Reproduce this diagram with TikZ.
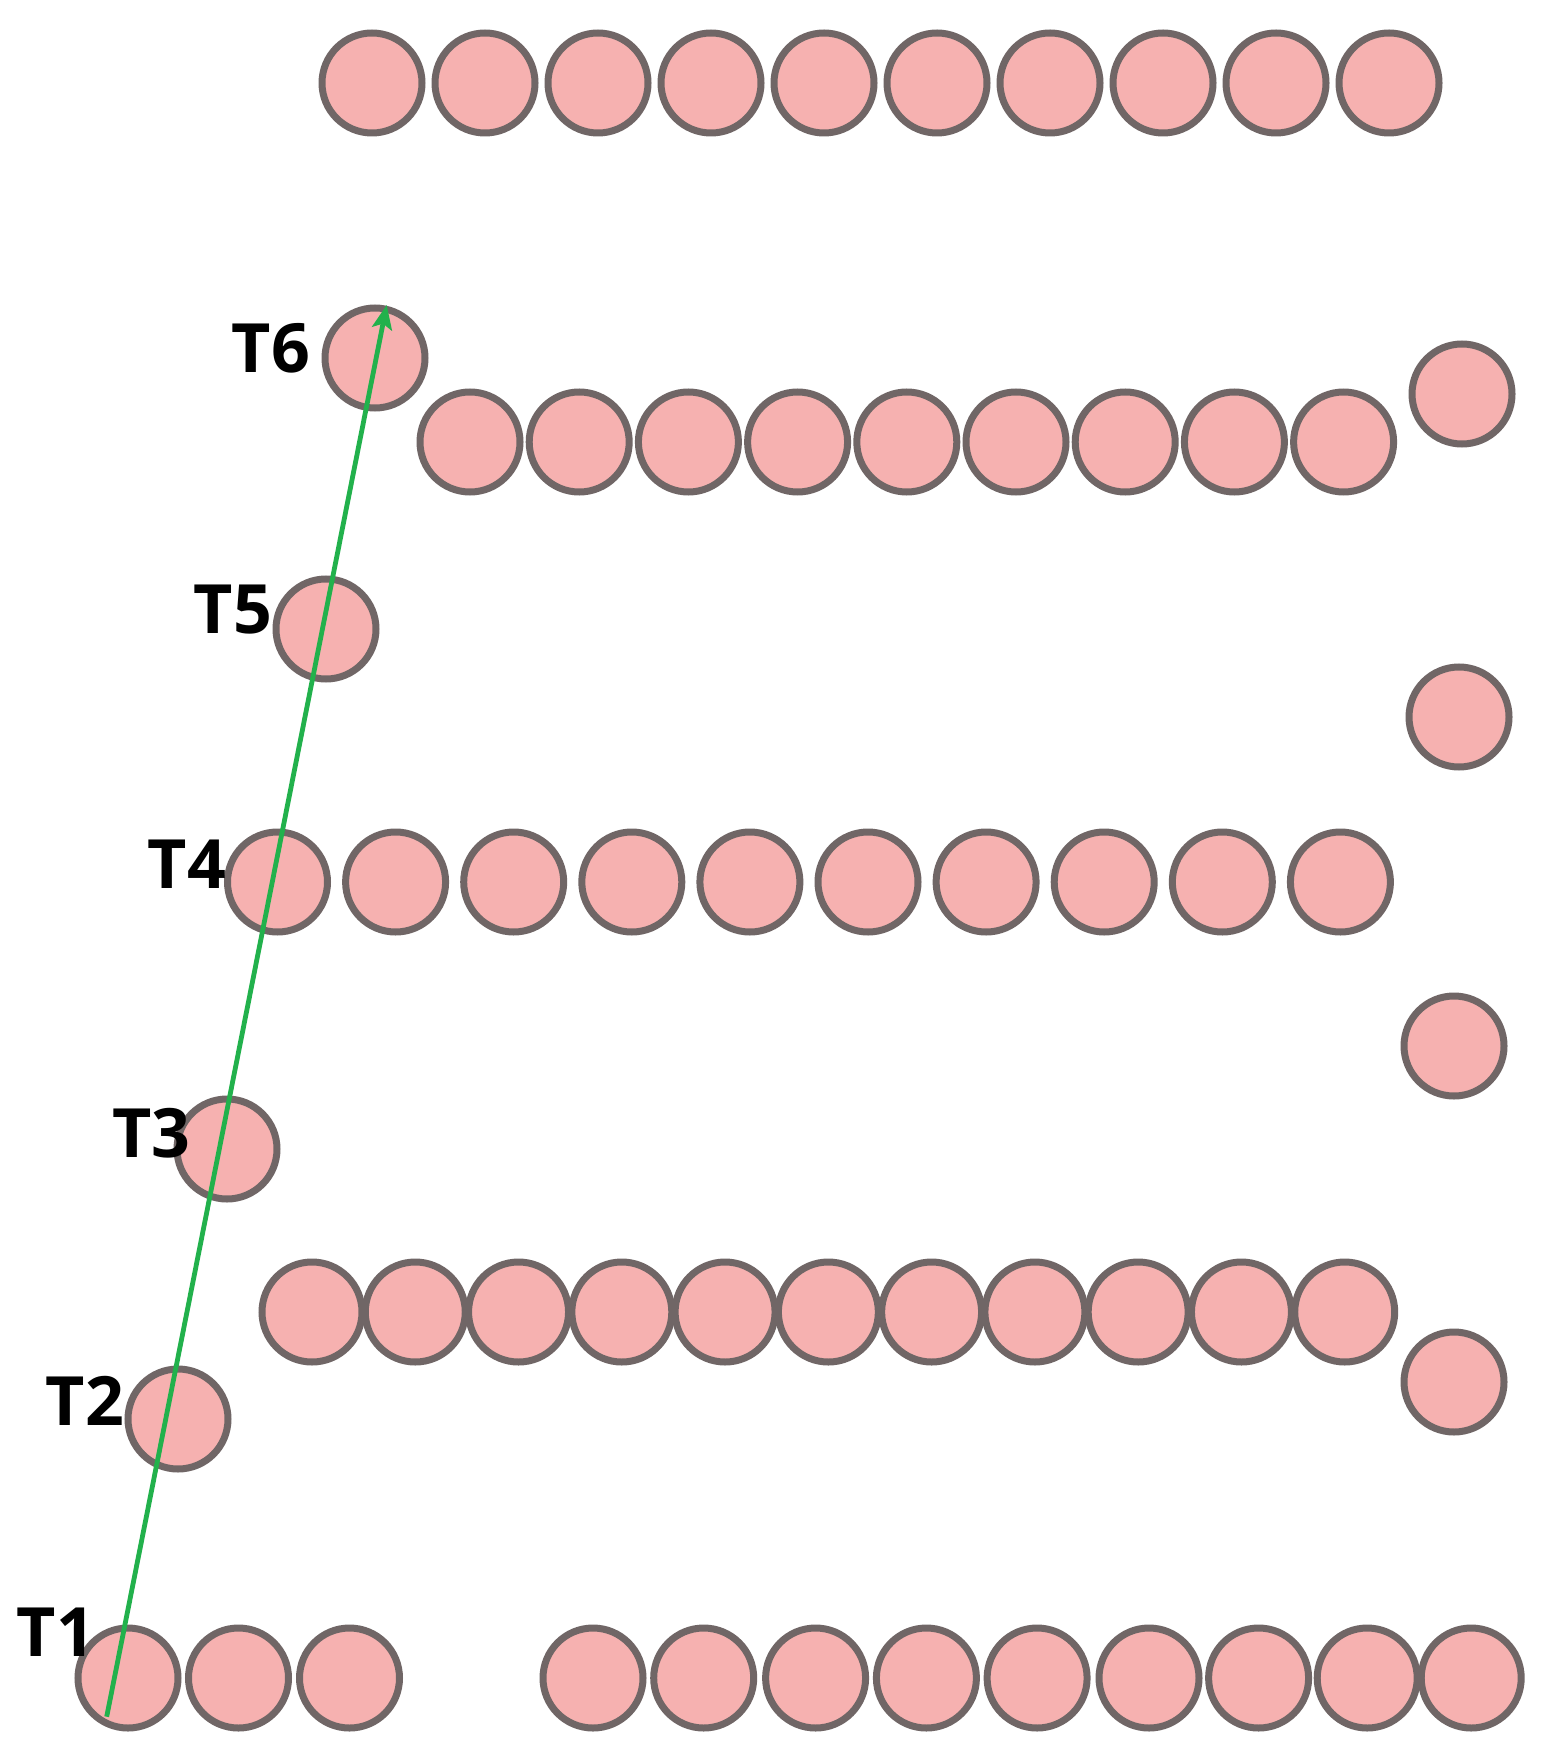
\documentclass[tikz,border=0pt]{standalone}
\usepackage{fontspec}
\setmainfont{Open Sans}
\usetikzlibrary{arrows.meta}
\definecolor{ballfill}{RGB}{246,177,176}
\definecolor{balledge}{RGB}{112,102,102}
\definecolor{arrgreen}{RGB}{34,177,76}
\tikzset{
  ball/.style={circle, draw=balledge, fill=ballfill, line width=3.5pt, minimum size=50pt, inner sep=0pt},
  tlabel/.style={font=\fontsize{34}{38}\selectfont\bfseries, inner sep=0pt, anchor=center},
  arr/.style={draw=arrgreen, line width=2.4pt, -{Stealth[length=12pt,width=10pt,inset=2.5pt]}}
}
\begin{document}
\begin{tikzpicture}[x=0.5pt,y=-0.5pt]
\useasboundingbox[fill=white] (0,0) rectangle (1545,1754);
% top row
\foreach \i in {0,...,9} \node[ball] (a\i) at ({372+113*\i},83) {};
% T6 and its row
\node[ball] (t6) at (375,358) {};
\foreach \i in {0,...,8} \node[ball] (b\i) at ({470+109.2*\i},442) {};
\node[ball] (br) at (1462,394) {};
% T5
\node[ball] (t5) at (326,629) {};
\node[ball] (cr) at (1459,717) {};
% T4 row
\foreach \i in {0,...,9} \node[ball] (d\i) at ({277.5+118.1*\i},882) {};
\node[ball] (dr) at (1454,1046) {};
% T3
\node[ball] (t3) at (227,1149) {};
% row of 11
\foreach \i in {0,...,10} \node[ball] (e\i) at ({312+103.27*\i},1312) {};
\node[ball] (er) at (1454,1382) {};
% T2
\node[ball] (t2) at (178,1419) {};
% bottom row
\node[ball] (f0) at (128,1678) {};
\node[ball] (f1) at (238.5,1678) {};
\node[ball] (f2) at (349.5,1678) {};
\foreach \x [count=\i] in {593,703.7,815.6,926.4,1037.1,1149,1258.6,1367.2,1471.2}
  \node[ball] (g\i) at (\x,1678) {};
% labels
\node[tlabel] (l1) at (56,1632) {T1};
\node[tlabel] (l2) at (85,1401) {T2};
\node[tlabel] (l3) at (151.5,1133) {T3};
\node[tlabel] (l4) at (187,864) {T4};
\node[tlabel] (l5) at (233,610) {T5};
\node[tlabel] (l6) at (271,348) {T6};
% arrow
\coordinate (as) at (106.7,1716.7);
\coordinate (ae) at (386.7,305);
\draw[arr] (as) -- (ae);
\end{tikzpicture}
\end{document}
